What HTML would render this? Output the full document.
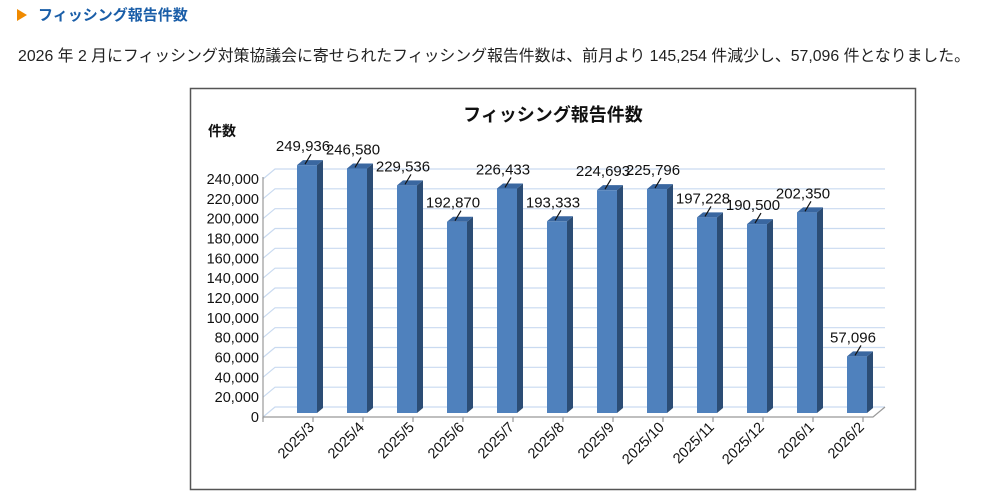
<!DOCTYPE html>
<html><head><meta charset="utf-8"><style>
body{margin:0;background:#fff;width:1000px;height:496px;overflow:hidden;font-family:"Liberation Sans","Noto Sans CJK JP",sans-serif;}
svg text{font-family:"Liberation Sans","Noto Sans CJK JP",sans-serif;}
</style></head><body>
<svg width="1000" height="496" xmlns="http://www.w3.org/2000/svg">
<polygon points="17,9 27,15 17,21" fill="#f08a00"/>
<text x="38" y="20" font-size="15" font-weight="bold" fill="#1a5ea8">フィッシング報告件数</text>
<text x="18" y="61" font-size="16" fill="#222" textLength="952" lengthAdjust="spacingAndGlyphs">2026 年 2 月にフィッシング対策協議会に寄せられたフィッシング報告件数は、前月より 145,254 件減少し、57,096 件となりました。</text>
<rect x="190.5" y="88.5" width="725" height="401" fill="#fff" stroke="#555" stroke-width="1.5"/>
<text x="553" y="121" font-size="18" font-weight="bold" text-anchor="middle" fill="#111">フィッシング報告件数</text>
<text x="208" y="136" font-size="14" font-weight="bold" fill="#111">件数</text>
<g id="grid" stroke="#c9daf0" stroke-width="1.2" fill="none"></g>
<g id="bars"></g>
<g id="labels" font-size="14" fill="#111"></g>
</svg>
<script>
var vals=[249936,246580,229536,192870,226433,193333,224693,225796,197228,190500,202350,57096];
var mon=["2025/3","2025/4","2025/5","2025/6","2025/7","2025/8","2025/9","2025/10","2025/11","2025/12","2026/1","2026/2"];
var ns="http://www.w3.org/2000/svg";
function el(p,t,a,txt){var e=document.createElementNS(ns,t);for(var k in a)e.setAttribute(k,a[k]);if(txt!=null)e.textContent=txt;p.appendChild(e);return e;}
var grid=document.getElementById('grid'),bars=document.getElementById('bars'),lab=document.getElementById('labels');
var y0=417,k=238/240000,dx=12,dy=10;
for(var i=0;i<=12;i++){var v=i*20000,y=y0-v*k;
 el(grid,'path',{d:'M263,'+y+' L'+(263+dx)+','+(y-dy)+' L885,'+(y-dy)});
 el(lab,'text',{x:259,y:y+5,'text-anchor':'end','font-size':'14.5'},v.toLocaleString('en-US'));}
el(grid,'path',{d:'M263,'+y0+' L873,'+y0+' L885,'+(y0-dy),stroke:'#999'});
el(grid,'path',{d:'M263,'+(y0+2)+' L263,'+(y0-240),stroke:'#999'});
for(var i=0;i<=12;i++){var x=263+50*i;el(grid,'path',{d:'M'+x+','+y0+' L'+x+','+(y0+5),stroke:'#999'});}
for(var i=0;i<12;i++){var cx=307+50*i,xl=cx-10,xr=cx+10,yb=y0-4,yt=yb-vals[i]*k;
 el(bars,'rect',{x:xl,y:yt,width:20,height:yb-yt,fill:'#4f81bd'});
 el(bars,'polygon',{points:xr+','+yt+' '+(xr+6)+','+(yt-5)+' '+(xr+6)+','+(yb-5)+' '+xr+','+yb,fill:'#2c4d75'});
 el(bars,'polygon',{points:xl+','+yt+' '+(xl+6)+','+(yt-5)+' '+(xr+6)+','+(yt-5)+' '+xr+','+yt,fill:'#3a67a0'});
 var ly=yt-14;
 el(lab,'text',{x:cx-4,y:ly,'text-anchor':'middle','font-size':'15'},vals[i].toLocaleString('en-US'));
 el(bars,'line',{x1:cx+4,y1:ly+3,x2:cx-2,y2:yt-1,stroke:'#111','stroke-width':1.2});
 el(lab,'text',{x:0,y:0,'text-anchor':'end',transform:'translate('+(cx+8)+',428) rotate(-45)','font-size':'14.5'},mon[i]);}
</script>
</body></html>
